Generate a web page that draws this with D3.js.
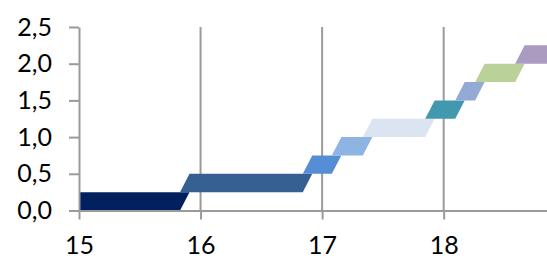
<!DOCTYPE html>
<html>
<head>
<meta charset="utf-8">
<script src="https://cdn.jsdelivr.net/npm/d3@7/dist/d3.min.js"></script>
<style>
  html, body { margin: 0; padding: 0; background: #fff; }
  svg { display: block; }
  .axis text { font-family: Lato, "Open Sans", sans-serif; font-size: 25px; fill: #000; }
  .axis path, .axis line { stroke: #9a9a9a; stroke-width: 2; }
</style>
</head>
<body>
<div id="chart"></div>
<script>
// Data: each band is one step of 0.25
const bandStarts = [14.9, 15.831, 16.841, 17.080, 17.335, 17.848, 18.095, 18.259, 18.588];
const bandEnds   = [15.831, 16.841, 17.080, 17.335, 17.848, 18.095, 18.259, 18.588, 19.1];
const bandColors = ['#002060', '#366092', '#558ed5', '#8db4e3', '#dbe5f1',
                    '#4199b0', '#94a9d4', '#bbd19a', '#aa9bc1'];
const bandHeight = 0.25;
const xTicks = [15, 16, 17, 18];
const yTicks = [0, 0.5, 1, 1.5, 2, 2.5];

const width = 547, height = 258;
const margins = { top: 27, left: 79, right: 0, bottom: 47.5 };

const svg = d3.select('#chart')
  .append('svg')
  .attr('width', width)
  .attr('height', height);

const x = d3.scaleLinear()
  .domain([15, 18.85])
  .range([margins.left, width - margins.right]);

const y = d3.scaleLinear()
  .domain([0, 2.5])
  .range([height - margins.bottom, margins.top]);

// Clip the bands to the plot area
svg.append('clipPath')
  .attr('id', 'plot-clip')
  .append('rect')
  .attr('x', x(15))
  .attr('y', y(2.5))
  .attr('width', x.range()[1] - x(15))
  .attr('height', y(0) - y(2.5));

// Vertical gridlines
svg.append('g')
  .selectAll('line')
  .data(xTicks.slice(1))
  .join('line')
  .attr('x1', d => x(d))
  .attr('x2', d => x(d))
  .attr('y1', y(2.5))
  .attr('y2', y(0))
  .attr('stroke', '#9a9a9a')
  .attr('stroke-width', 2);

// The slanted bands (top edge pushed right by a fixed offset)
const slant = 0.078;
const bands = bandStarts.map((s, i) => ({
  start: s, end: bandEnds[i], level: i, color: bandColors[i]
}));

svg.append('g')
  .attr('clip-path', 'url(#plot-clip)')
  .selectAll('path')
  .data(bands)
  .join('path')
  .attr('d', d => {
    const y0 = y(d.level * bandHeight);
    const y1 = y((d.level + 1) * bandHeight);
    return `M${x(d.start)},${y0}L${x(d.end)},${y0}`
      + `L${x(d.end + slant)},${y1}L${x(d.start + slant)},${y1}Z`;
  })
  .attr('fill', d => d.color);

const fmt = d => d3.format('.1f')(d).replace('.', ',');

// Axes
svg.append('g')
  .classed('axis', true)
  .attr('transform', `translate(0, ${y(0)})`)
  .call(d3.axisBottom(x)
    .tickValues(xTicks)
    .tickFormat(d3.format('d'))
    .tickSize(9)
    .tickSizeOuter(0)
    .tickPadding(17));

svg.append('g')
  .classed('axis', true)
  .attr('transform', `translate(${x(15)}, 0)`)
  .call(d3.axisLeft(y)
    .tickValues(yTicks)
    .tickFormat(fmt)
    .tickSize(10)
    .tickSizeOuter(0)
    .tickPadding(17));
</script>
</body>
</html>
